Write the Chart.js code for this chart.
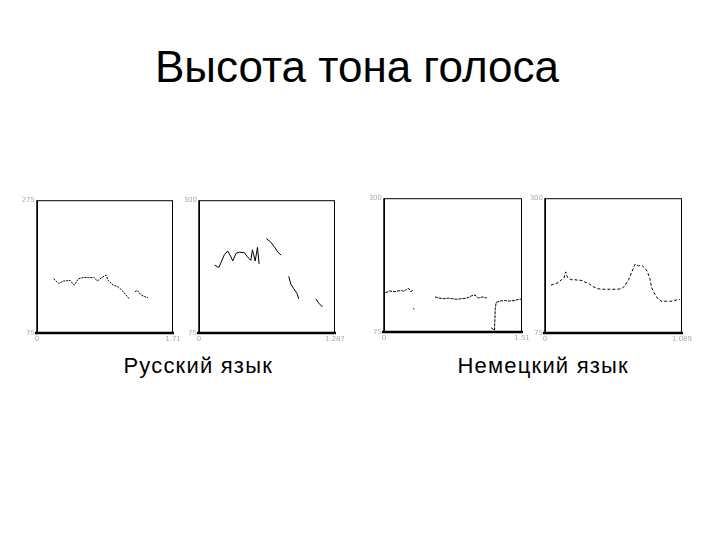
<!DOCTYPE html>
<html><head><meta charset="utf-8">
<script src="https://cdn.jsdelivr.net/npm/chart.js@4/dist/chart.umd.min.js"></script>
<style>
html,body{margin:0;padding:0;background:#fff;}
body{width:720px;height:540px;position:relative;overflow:hidden;font-family:"Liberation Sans",Arial,sans-serif;}
#title{position:absolute;left:-3px;width:720px;top:42px;text-align:center;font-size:44px;color:#000;}
.cap{position:absolute;top:353px;font-size:22px;letter-spacing:1.2px;padding-left:1.2px;color:#000;text-align:center;width:240px;}
canvas{position:absolute;}
</style></head><body>
<div id="title">Высота тона голоса</div>
<div class="cap" style="left:77px">Русский язык</div>
<div class="cap" style="left:422px">Немецкий язык</div>
<canvas id="c0"></canvas><canvas id="c1"></canvas><canvas id="c2"></canvas><canvas id="c3"></canvas>
<script>
// Pitch contours: x = fraction of utterance duration, y = pitch (Hz); null = unvoiced gap
const rus1X = [0.122,0.159,0.195,0.244,0.273,0.305,0.341,0.378,0.420,0.444,0.476,0.507,0.524,0.561,0.598,0.634,0.678,0.70,0.720,0.737,0.768,0.800,0.817];
const rus1Y = [167,159,163,164,156,167,169,169,169,163,169,173,164,156,153,145,133,null,145,147,139,136,135];
const rus2X = [0.114,0.146,0.163,0.187,0.211,0.235,0.248,0.272,0.296,0.333,0.357,0.381,0.393,0.413,0.430,0.442,0.47,0.495,0.527,0.551,0.580,0.604,0.63,0.660,0.675,0.697,0.721,0.733,0.80,0.859,0.879,0.908];
const rus2Y = [190,186,195,208,214,204,197,210,212,211,204,198,216,197,220,192,null,235,229,222,212,207,null,171,158,150,142,133,null,133,126,119];
const ger1X = [0.010,0.041,0.078,0.102,0.126,0.146,0.163,0.180,0.194,0.211,0.212,0.213,0.218,0.30,0.369,0.398,0.430,0.466,0.495,0.527,0.563,0.600,0.636,0.660,0.684,0.714,0.745,0.76,0.777,0.801,0.806,0.813,0.842,0.874,0.908,0.947,0.976,1.0];
const ger1Y = [141,144,143,144,145,143,147,148,143,145,null,115,113,null,134,132,131,132,131,130,131,132,136,137,132,134,132,null,82,78,114,125,127,128,127,128,130,130];
const ger2X = [0.043,0.072,0.096,0.120,0.139,0.151,0.163,0.191,0.215,0.244,0.263,0.292,0.323,0.347,0.383,0.419,0.455,0.490,0.526,0.562,0.586,0.610,0.634,0.658,0.682,0.706,0.730,0.746,0.766,0.778,0.801,0.825,0.849,0.885,0.921,0.957,0.986];
const ger2Y = [155,157,159,164,167,177,168,164,164,163,163,160,157,153,149,148,148,148,148,149,155,164,177,190,187,188,183,178,166,151,140,132,128,128,128,130,131];
// Axis tick labels
const yMinLabels = ["75","75","75","75"];
const yMaxLabels = ["275","300","300","300"];
const xMaxLabels = ["1.71","1.287","1.51","1.089"];
const yMin = 75, yMax = 300;

const series = [[rus1X,rus1Y],[rus2X,rus2Y],[ger1X,ger1Y],[ger2X,ger2Y]];
const areas = [[37,200,173,333],[199,200,337,333],[384,198,522,332],[545,198,684,333]];
const dashes = [[2,1],[],[3,1],[3,2]];

const boxPlugin = {
  id:'box',
  afterDraw(chart){
    const a = chart.chartArea, ctx = chart.ctx;
    ctx.save();
    ctx.strokeStyle='#000';
    ctx.lineWidth=1;
    ctx.strokeRect(a.left+0.5,a.top+0.5,a.right-a.left-1,a.bottom-a.top-1);
    ctx.lineWidth=2.5;
    ctx.beginPath();ctx.moveTo(a.left-2,a.bottom);ctx.lineTo(a.right+1,a.bottom);ctx.stroke();
    ctx.lineWidth=1.5;
    ctx.beginPath();ctx.moveTo(a.left,a.top);ctx.lineTo(a.left,a.bottom);ctx.stroke();
    ctx.restore();
  }
};

series.forEach((s,i)=>{
  const [L,T,R,B] = areas[i];
  const cv = document.getElementById('c'+i);
  const padL=2, padR=10, padT=6, padB=2, yW=18, xH=12;
  const w = (R-L)+padL+padR+yW, h = (B-T)+padT+padB+xH;
  cv.style.left=(L-padL-yW)+'px'; cv.style.top=(T-padT)+'px';
  cv.style.width=w+'px'; cv.style.height=h+'px';
  cv.width=w; cv.height=h;
  const pts = s[0].map((x,k)=>({x:x,y:s[1][k]}));
  new Chart(cv,{
    type:'line',
    data:{datasets:[{data:pts,borderColor:'#000',borderWidth:1,borderDash:dashes[i],pointRadius:0,tension:0,spanGaps:false,fill:false}]},
    options:{
      responsive:false,animation:false,devicePixelRatio:1,
      layout:{padding:{left:padL,right:padR,top:padT,bottom:padB}},
      plugins:{legend:{display:false},tooltip:{enabled:false}},
      scales:{
        x:{type:'linear',min:0,max:1,grid:{display:false,drawTicks:false},border:{display:false},
           afterFit(sc){sc.height=xH;},
           afterBuildTicks(sc){sc.ticks=[{value:0},{value:1}];},
           ticks:{autoSkip:false,padding:2,maxRotation:0,font:{size:7,family:'DejaVu Sans'},color:'#aaa',
             callback:(v)=> v===0 ? '0' : xMaxLabels[i]}},
        y:{type:'linear',min:yMin,max:yMax,grid:{display:false,drawTicks:false},border:{display:false},
           afterFit(sc){sc.width=yW;},
           afterBuildTicks(sc){sc.ticks=[{value:yMin},{value:yMax}];},
           ticks:{autoSkip:false,padding:2,font:{size:7,family:'DejaVu Sans'},color:'#aaa',
             callback:(v)=> v===yMin ? yMinLabels[i] : yMaxLabels[i]}}
      }
    },
    plugins:[boxPlugin]
  });
});
</script>
</body></html>
